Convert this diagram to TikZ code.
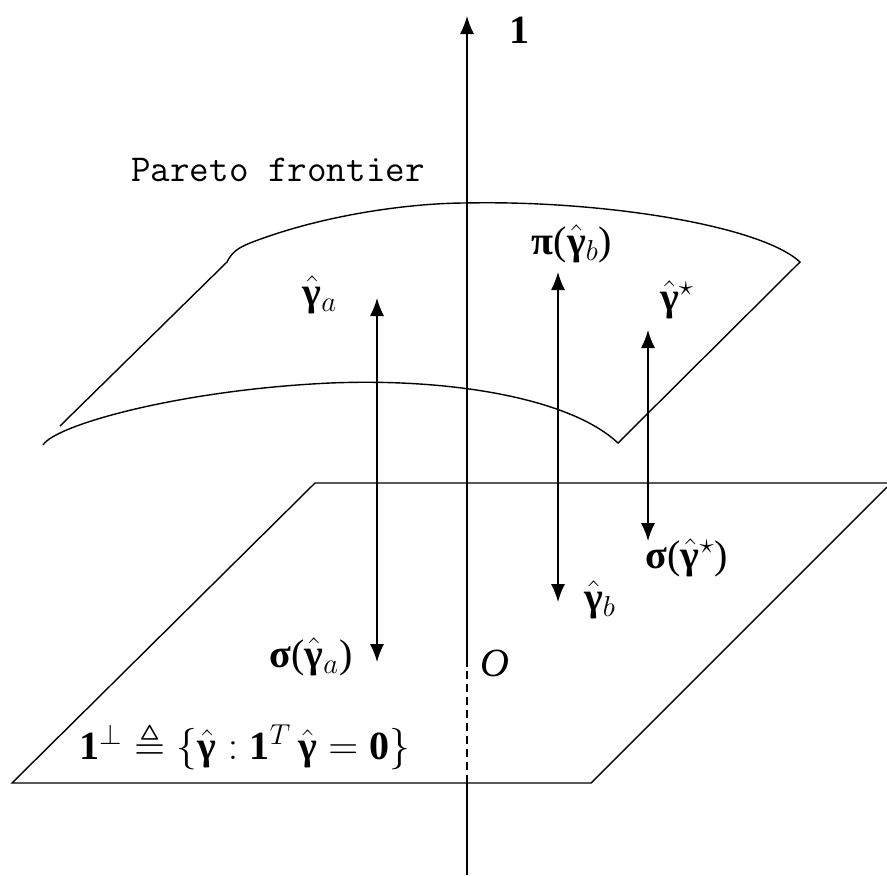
\documentclass[tikz,border=0pt]{standalone}
\usepackage{amsmath,amssymb}
\usepackage{fontspec}
\setmainfont{Liberation Serif}
\usetikzlibrary{arrows.meta}
\newcommand\gh{\ensuremath{\hat{\text{\bfseries γ}}}}
\begin{document}
\begin{tikzpicture}[x=0.5pt,y=-0.5pt,
  thin line/.style={line width=0.7pt},
  dbl/.style={line width=0.7pt,{Latex[length=9pt,width=7pt]}-{Latex[length=9pt,width=7pt]}},
  lab/.style={inner sep=0pt,font=\fontsize{20}{22}\selectfont},
  surf/.style={line width=0.7pt}]
\useasboundingbox (0,0) rectangle (887,875);

% plane 1-perp
\coordinate (p1) at (12,783);
\coordinate (p2) at (591,783);
\coordinate (p3) at (887,487);
\coordinate (p4) at (887,483);
\coordinate (p5) at (315,483);
\draw[thin line] (p3) -- (p2) -- (p1) -- (p5) -- (p4);

% Pareto surface
\coordinate (s1) at (43,445);
\coordinate (s2) at (330,383);
\coordinate (s3) at (618,443);
\coordinate (s4) at (800,262);
\coordinate (s5) at (465,203);
\coordinate (s6) at (250,243);
\coordinate (s7) at (227,262);
\coordinate (s8) at (60,426);
\draw[surf] (s1) .. controls (55,425) and (180,390) .. (s2)
  .. controls (450,378) and (570,398) .. (s3) -- (s4)
  .. controls (760,225) and (600,200) .. (s5)
  .. controls (420,203) and (330,212) .. (s6)
  .. controls (238,248) and (232,252) .. (s7) -- (s8);

% axis 1
\coordinate (axtop) at (467,16);
\coordinate (axbot) at (467,875);
\coordinate (d1) at (467,667);
\coordinate (d2) at (467,783);
\draw[thin line] (axbot) -- (d2);
\draw[thin line,dash pattern=on 4pt off 2.5pt] (d2) -- (d1);
\draw[thin line,-{Latex[length=9pt,width=7pt]}] (d1) -- (axtop);
\node[lab,font=\fontsize{20}{22}\selectfont\bfseries] (one) at (519,30) {1};

% vertical double arrows
\coordinate (a1) at (377,298);
\coordinate (a2) at (377,662);
\coordinate (b1) at (558,272);
\coordinate (b2) at (558,602);
\coordinate (c1) at (648,330);
\coordinate (c2) at (648,541);
\draw[dbl] (a1) -- (a2);
\draw[dbl] (b1) -- (b2);
\draw[dbl] (c1) -- (c2);

% labels
\node[lab,font=\fontsize{19}{21}\selectfont\ttfamily] (pf) at (278,170) {Pareto frontier};
\node[lab] (ga) at (320,295) {\gh$_{a}$};
\node[lab] (pib) at (572,244) {{\bfseries π}(\gh$_{b}$)};
\node[lab] (gs) at (677,300) {\gh$^{\star}$};
\node[lab] (sgs) at (687,558) {{\bfseries σ}(\gh$^{\star}$)};
\node[lab] (gb) at (600,600) {\gh$_{b}$};
\node[lab] (sga) at (311,657) {{\bfseries σ}(\gh$_{a}$)};
\node[lab] (o) at (495,663) {\textit{O}};
\node[lab,font=\fontsize{20}{22}\selectfont] (def) at (245,746)
  {$\mathbf{1}^{\perp}\triangleq\{\gh:\mathbf{1}^{T}\,\gh=\mathbf{0}\}$};
\end{tikzpicture}
\end{document}
